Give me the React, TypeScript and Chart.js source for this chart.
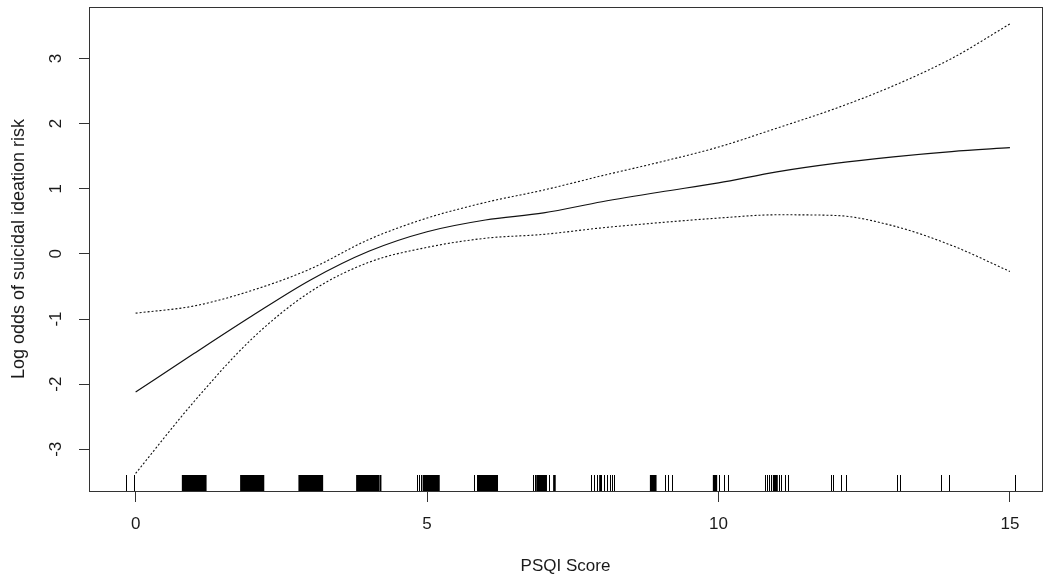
import React, { useEffect, useRef } from 'react';
import { Chart, registerables } from 'chart.js';

Chart.register(...registerables);

// PSQI score grid at which the smooth fit is evaluated
const psqiScores = [0, 1, 2, 3, 4, 5, 6, 7, 8, 9, 10, 11, 12, 13, 14, 15];
// fitted log odds (solid line)
const fitValues = [-2.12, -1.53, -0.95, -0.40, 0.04, 0.34, 0.52, 0.63, 0.80, 0.95, 1.09, 1.26, 1.39, 1.49, 1.57, 1.63];
// upper confidence band (dotted)
const upperValues = [-0.91, -0.80, -0.56, -0.23, 0.22, 0.55, 0.79, 0.98, 1.20, 1.41, 1.64, 1.93, 2.23, 2.58, 3.00, 3.53];
// lower confidence band (dotted)
const lowerValues = [-3.37, -2.27, -1.30, -0.58, -0.13, 0.10, 0.24, 0.30, 0.40, 0.48, 0.55, 0.60, 0.59, 0.43, 0.13, -0.27];

// rug: jittered observed PSQI scores (isolated ticks)
const rugSparse = [
  -0.17, -0.03, 4.82, 4.86, 4.90, 5.81, 5.85, 6.81, 6.85, 7.09, 7.82, 7.86, 7.91, 7.96, 7.99,
  8.04, 8.08, 8.13, 8.18, 8.21, 9.09, 9.13, 9.20, 10.01, 10.09, 10.17, 10.80, 10.84, 10.87,
  10.90, 11.04, 11.07, 11.14, 11.19, 11.93, 11.97, 12.10, 12.19, 13.07, 13.12, 13.82, 13.96, 15.09,
];
// rug: densely packed observations (merge into solid blocks)
const rugDense = [
  0.81, 0.84, 0.87, 0.90, 0.93, 0.96, 0.99, 1.02, 1.05, 1.08, 1.11, 1.14, 1.17, 1.20,
  1.81, 1.84, 1.87, 1.90, 1.93, 1.96, 1.99, 2.02, 2.05, 2.08, 2.11, 2.14, 2.17, 2.19,
  2.81, 2.84, 2.87, 2.90, 2.93, 2.96, 2.99, 3.02, 3.05, 3.08, 3.11, 3.14, 3.17, 3.20,
  3.80, 3.83, 3.86, 3.89, 3.92, 3.95, 3.98, 4.01, 4.04, 4.07, 4.10, 4.13, 4.16, 4.20,
  4.94, 4.97, 5.00, 5.03, 5.06, 5.09, 5.12, 5.15, 5.18, 5.20,
  5.89, 5.92, 5.95, 5.98, 6.01, 6.04, 6.07, 6.10, 6.13, 6.16, 6.19, 6.20,
  6.89, 6.92, 6.95, 6.98, 7.01, 7.04, 7.18, 7.19,
  7.97, 7.98,
  8.84, 8.87, 8.90, 8.92,
  9.92, 9.95, 9.96,
  10.95, 10.98, 11.00,
];

const xTickValues = [0, 5, 10, 15];
const yTickValues = [-3, -2, -1, 0, 1, 2, 3];
const xAxisTitle = 'PSQI Score';
const yAxisTitle = 'Log odds of suicidal ideation risk';

export default function App() {
  const canvasRef = useRef<HTMLCanvasElement | null>(null);

  useEffect(() => {
    document.body.style.margin = '0';
    const canvas = canvasRef.current;
    if (!canvas) return;

    const fontFamily = '"Liberation Sans", Arial, sans-serif';
    const font = { family: fontFamily, size: 17 };
    const yTitleFont = { family: fontFamily, size: 18 };
    const ink = '#1a1a1a';

    const toPts = (ys: number[]) => psqiScores.map((x, i) => ({ x, y: ys[i] }));

    const boxAndRug = {
      id: 'boxAndRug',
      afterDatasetsDraw(chart: any) {
        const { ctx, chartArea: a, scales } = chart;
        const xs = scales.x;
        ctx.save();
        ctx.strokeStyle = '#333';
        ctx.lineWidth = 1;
        ctx.strokeRect(a.left + 0.5, a.top + 0.5, a.right - a.left, a.bottom - a.top);
        ctx.strokeStyle = '#000';
        ctx.lineWidth = 1;
        ctx.beginPath();
        for (const v of rugSparse) {
          const px = Math.round(xs.getPixelForValue(v)) + 0.5;
          ctx.moveTo(px, a.bottom);
          ctx.lineTo(px, a.bottom - 16);
        }
        ctx.stroke();
        ctx.lineWidth = 2;
        ctx.beginPath();
        for (const v of rugDense) {
          const px = xs.getPixelForValue(v);
          ctx.moveTo(px, a.bottom);
          ctx.lineTo(px, a.bottom - 16);
        }
        ctx.stroke();
        ctx.restore();
      },
    };

    const chart = new Chart(canvas, {
      type: 'line',
      data: {
        datasets: [
          {
            label: 'fit',
            data: toPts(fitValues),
            borderColor: '#111',
            borderWidth: 1.2,
            pointRadius: 0,
            cubicInterpolationMode: 'monotone',
          },
          {
            label: 'upper',
            data: toPts(upperValues),
            borderColor: '#111',
            borderWidth: 1.1,
            borderDash: [2, 2],
            pointRadius: 0,
            cubicInterpolationMode: 'monotone',
          },
          {
            label: 'lower',
            data: toPts(lowerValues),
            borderColor: '#111',
            borderWidth: 1.1,
            borderDash: [2, 2],
            pointRadius: 0,
            cubicInterpolationMode: 'monotone',
          },
        ],
      },
      options: {
        responsive: false,
        animation: false,
        events: [],
        layout: { padding: { top: 7, right: 3, left: 0, bottom: 0 } },
        plugins: { legend: { display: false }, tooltip: { enabled: false } },
        scales: {
          x: {
            type: 'linear',
            min: -0.8,
            max: 15.55,
            afterBuildTicks: (s: any) => { s.ticks = xTickValues.map((v) => ({ value: v })); },
            afterFit: (s: any) => { s.height = 91; s.paddingLeft = 0; s.paddingRight = 0; },
            grid: { drawOnChartArea: false, drawTicks: true, tickLength: 11, tickColor: '#333', color: '#333' },
            border: { display: false },
            ticks: { font, color: ink, padding: 12, maxRotation: 0, autoSkip: false, callback: (v: any) => String(v) },
            title: { display: true, text: xAxisTitle, font, color: ink, padding: { top: 0, bottom: 5 } },
          },
          y: {
            type: 'linear',
            min: -3.64,
            max: 3.79,
            afterBuildTicks: (s: any) => { s.ticks = yTickValues.map((v) => ({ value: v })); },
            afterFit: (s: any) => { s.width = 89; s.paddingTop = 0; s.paddingBottom = 0; },
            grid: { drawOnChartArea: false, drawTicks: true, tickLength: 10, tickColor: '#333', color: '#333' },
            border: { display: false },
            ticks: {
              font, color: ink, padding: 15, minRotation: 90, maxRotation: 90,
              crossAlign: 'center', autoSkip: false, callback: (v: any) => String(v),
            },
            title: { display: true, text: yAxisTitle, font: yTitleFont, color: ink, padding: { top: 8, bottom: 0 } },
          },
        },
      },
      plugins: [boxAndRug],
    } as any);

    return () => chart.destroy();
  }, []);

  return (
    <div style={{ position: 'absolute', left: 0, top: 0, width: 1045, height: 582 }}>
      <canvas ref={canvasRef} width={1045} height={582} style={{ display: 'block', width: 1045, height: 582 }} />
    </div>
  );
}
